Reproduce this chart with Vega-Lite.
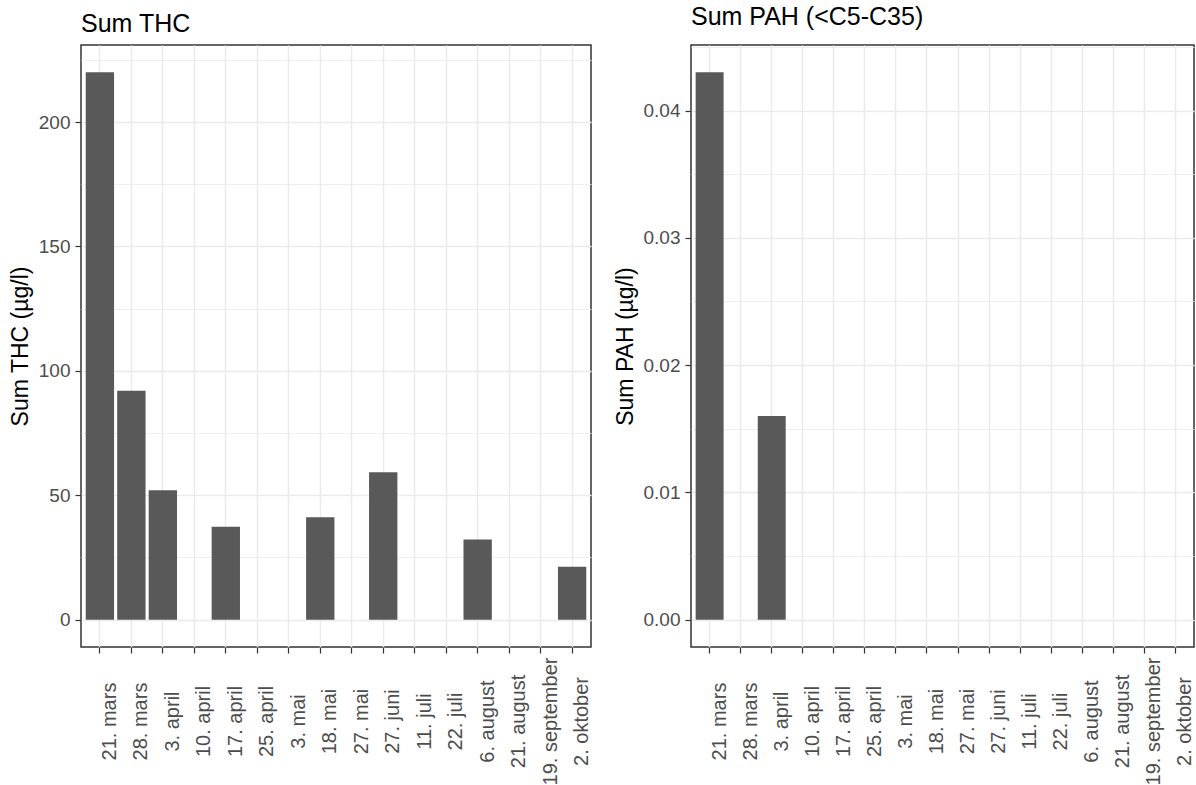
{
  "$schema": "https://vega.github.io/schema/vega-lite/v6.json",
  "padding": {"left": 8, "top": 4, "right": 0, "bottom": 0},
  "background": "white",
  "spacing": 20,
  "config": {
    "font": "Liberation Sans",
    "view": {"stroke": "#333333", "strokeWidth": 1.5},
    "title": {"anchor": "start", "frame": "group", "fontSize": 25, "fontWeight": "normal", "color": "#000000", "offset": 8, "font": "Liberation Sans"},
    "axis": {
      "domain": false,
      "tickColor": "#333333",
      "tickSize": 6,
      "tickWidth": 1.2,
      "labelColor": "#4D4D4D",
      "labelFont": "Liberation Sans",
      "titleFont": "Liberation Sans",
      "titleFontWeight": "normal",
      "titleColor": "#000000",
      "titleFontSize": 23,
      "gridColor": "#EBEBEB",
      "labelOverlap": false
    }
  },
  "data": {
    "values": [
      {"date": "21. mars", "thc": 220, "pah": 0.043},
      {"date": "28. mars", "thc": 92, "pah": null},
      {"date": "3. april", "thc": 52, "pah": 0.016},
      {"date": "10. april", "thc": null, "pah": null},
      {"date": "17. april", "thc": 37.3, "pah": null},
      {"date": "25. april", "thc": null, "pah": null},
      {"date": "3. mai", "thc": null, "pah": null},
      {"date": "18. mai", "thc": 41.2, "pah": null},
      {"date": "27. mai", "thc": null, "pah": null},
      {"date": "27. juni", "thc": 59.2, "pah": null},
      {"date": "11. juli", "thc": null, "pah": null},
      {"date": "22. juli", "thc": null, "pah": null},
      {"date": "6. august", "thc": 32.2, "pah": null},
      {"date": "21. august", "thc": null, "pah": null},
      {"date": "19. september", "thc": null, "pah": null},
      {"date": "2. oktober", "thc": 21.3, "pah": null}
    ]
  },
  "hconcat": [
    {
      "width": 510,
      "height": 602,
      "title": "Sum THC",
      "mark": {"type": "bar", "color": "#595959"},
      "encoding": {
        "x": {
          "field": "date", "type": "ordinal", "sort": null,
          "scale": {"domain": ["21. mars", "28. mars", "3. april", "10. april", "17. april", "25. april", "3. mai", "18. mai", "27. mai", "27. juni", "11. juli", "22. juli", "6. august", "21. august", "19. september", "2. oktober"], "paddingInner": 0.1, "paddingOuter": 0.15},
          "axis": {"title": null, "labelAngle": 270, "labelAlign": "center", "labelBaseline": "top", "labelPadding": 68, "bandPosition": 0.5, "grid": true, "gridWidth": 1.5, "labelFontSize": 20, "labelBound": false}
        },
        "y": {
          "field": "thc", "type": "quantitative", "title": "Sum THC (µg/l)",
          "scale": {"domain": [-11, 231], "nice": false, "zero": false},
          "axis": {
            "values": [0, 25, 50, 75, 100, 125, 150, 175, 200, 225],
            "labelExpr": "datum.value % 50 === 0 ? datum.label : ''",
            "tickOpacity": {"condition": {"test": "datum.value % 50 === 0", "value": 1}, "value": 0},
            "gridWidth": {"condition": {"test": "datum.value % 50 === 0", "value": 1.5}, "value": 0.8},
            "labelFontSize": 19, "labelPadding": 5, "titlePadding": 6
          }
        },
        "y2": {"datum": 0}
      }
    },
    {
      "width": 503,
      "height": 602,
      "title": "Sum PAH (<C5-C35)",
      "mark": {"type": "bar", "color": "#595959"},
      "encoding": {
        "x": {
          "field": "date", "type": "ordinal", "sort": null,
          "scale": {"domain": ["21. mars", "28. mars", "3. april", "10. april", "17. april", "25. april", "3. mai", "18. mai", "27. mai", "27. juni", "11. juli", "22. juli", "6. august", "21. august", "19. september", "2. oktober"], "paddingInner": 0.1, "paddingOuter": 0.15},
          "axis": {"title": null, "labelAngle": 270, "labelAlign": "center", "labelBaseline": "top", "labelPadding": 68, "bandPosition": 0.5, "grid": true, "gridWidth": 1.5, "labelFontSize": 20, "labelBound": false}
        },
        "y": {
          "field": "pah", "type": "quantitative", "title": "Sum PAH (µg/l)",
          "scale": {"domain": [-0.00215, 0.04515], "nice": false, "zero": false},
          "axis": {
            "values": [0, 0.005, 0.01, 0.015, 0.02, 0.025, 0.03, 0.035, 0.04, 0.045],
            "format": ".2f",
            "labelExpr": "abs(datum.value * 100 - round(datum.value * 100)) < 0.000001 ? datum.label : ''",
            "tickOpacity": {"condition": {"test": "abs(datum.value * 100 - round(datum.value * 100)) < 0.000001", "value": 1}, "value": 0},
            "gridWidth": {"condition": {"test": "abs(datum.value * 100 - round(datum.value * 100)) < 0.000001", "value": 1.5}, "value": 0.8},
            "labelFontSize": 19, "labelPadding": 5, "titlePadding": 6
          }
        },
        "y2": {"datum": 0}
      }
    }
  ]
}
